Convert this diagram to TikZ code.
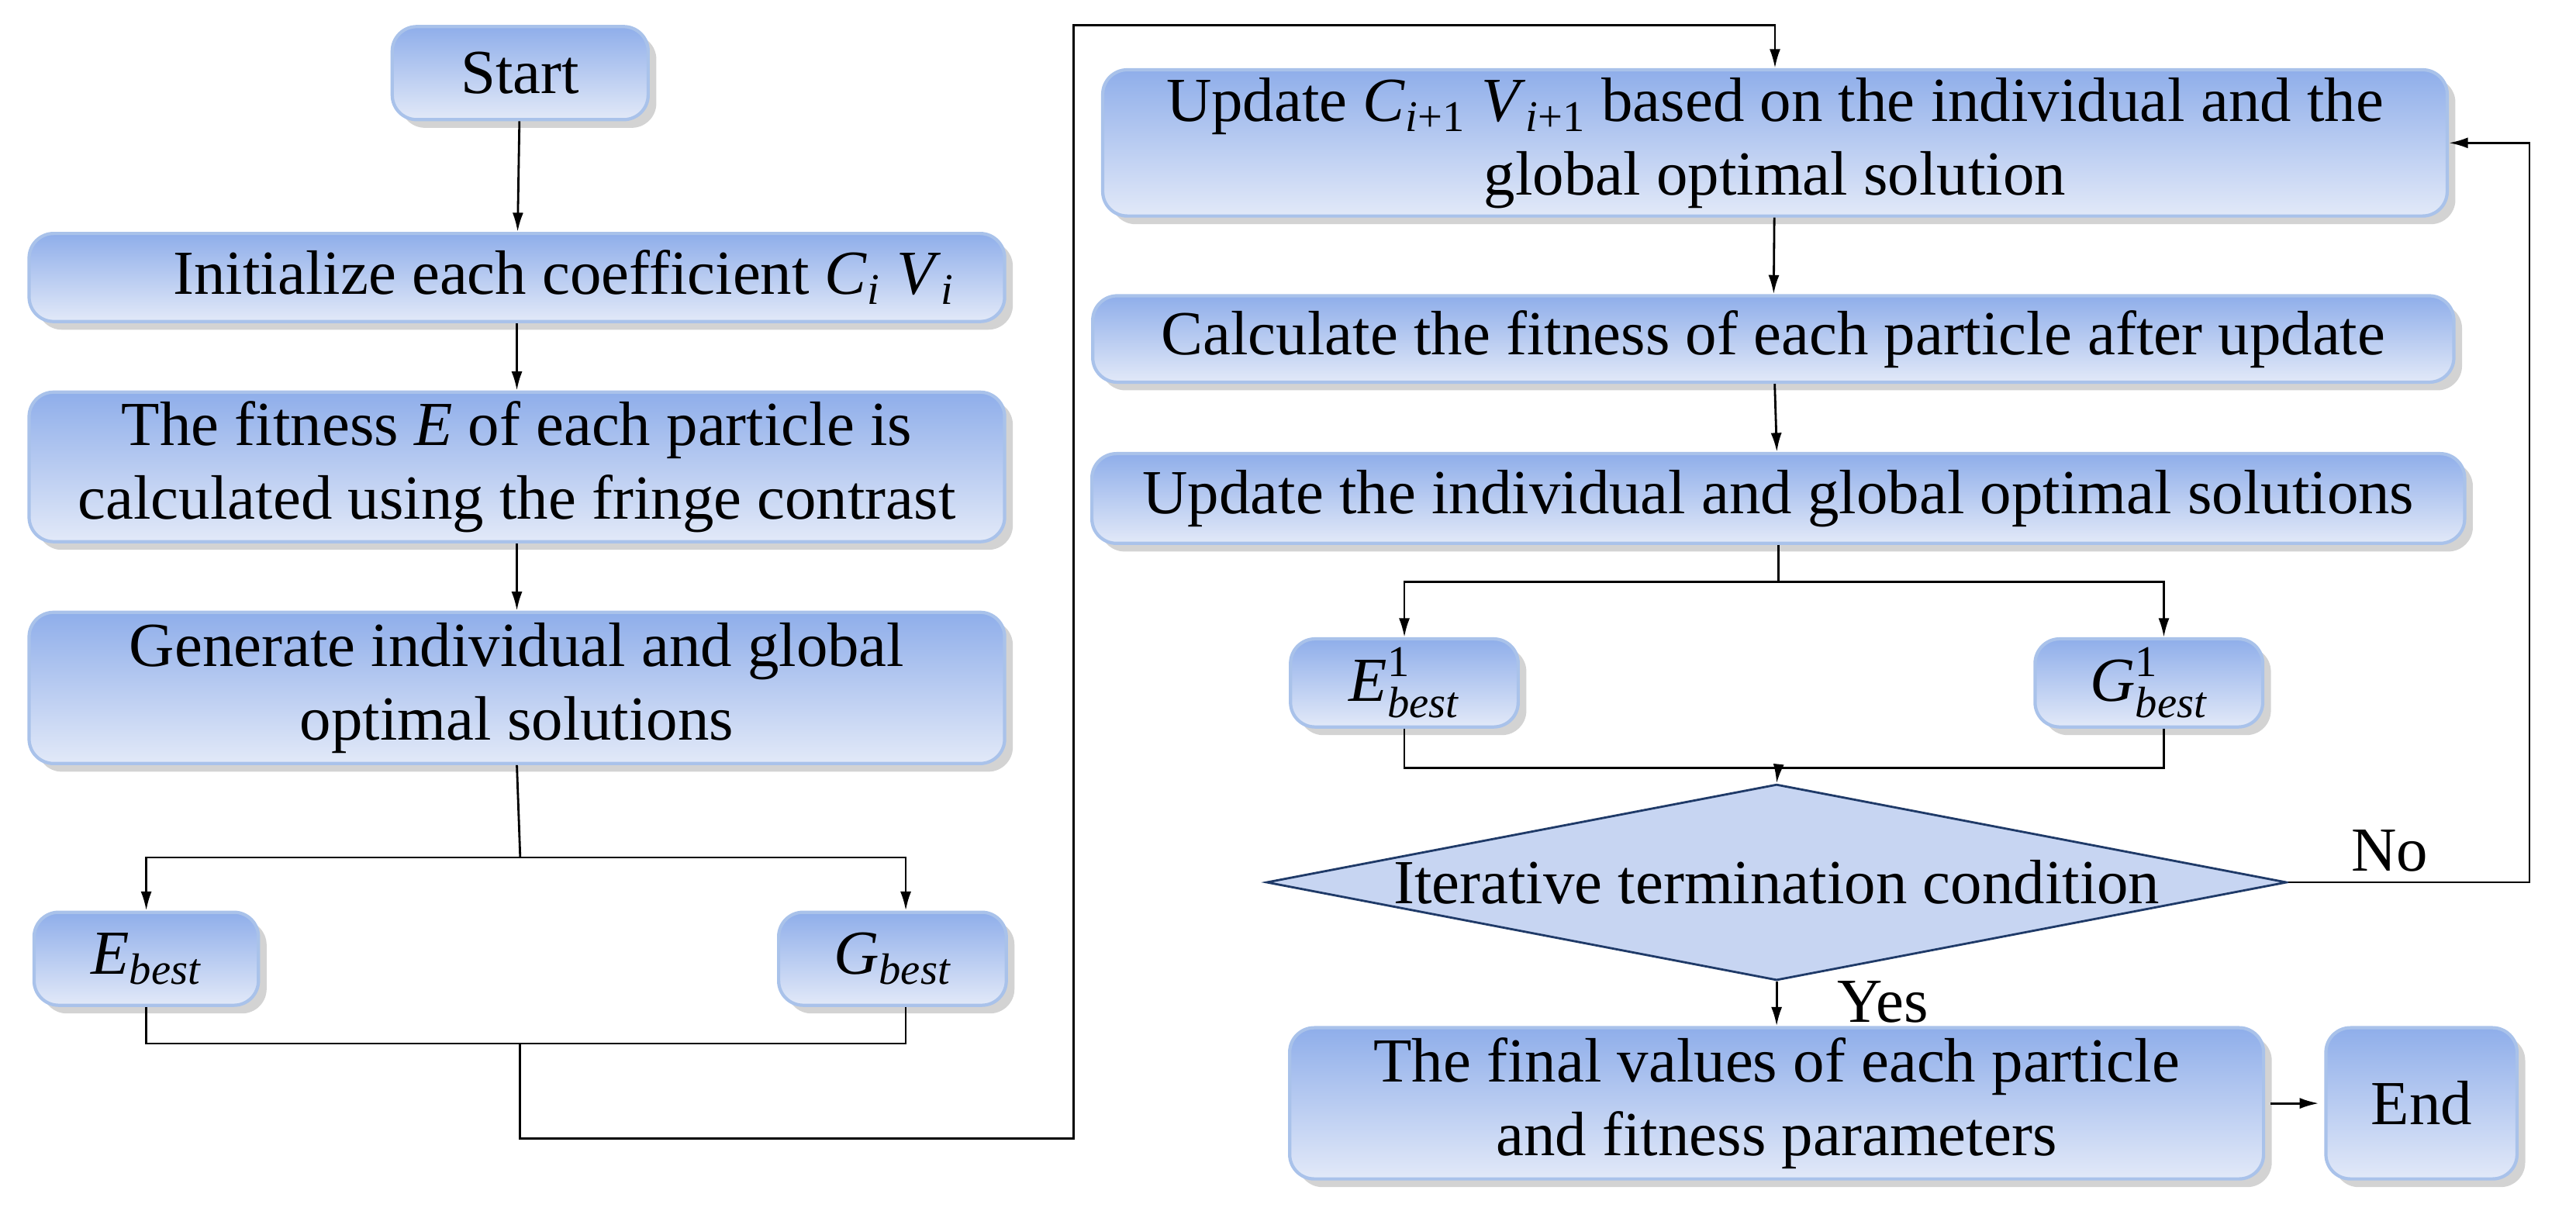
\documentclass[tikz,border=0pt]{standalone}
\usepackage{amsmath}
\usepackage{fontspec}
\setmainfont{Liberation Serif}
\usetikzlibrary{shapes.geometric,shadows,arrows.meta}
\definecolor{btop}{HTML}{8FAEEA}
\definecolor{bbot}{HTML}{E2E9F8}
\definecolor{bline}{HTML}{A9C2EA}
\definecolor{dfill}{HTML}{C7D5F2}
\definecolor{dline}{HTML}{1F3A68}
\newcommand{\sbest}[1]{\textit{#1}$_{\textit{best}}$}
\newcommand{\sbestone}[1]{\textit{#1}$^{\textrm{1}}_{\textit{best}}$}
\begin{document}
\begin{tikzpicture}[x=0.02143cm,y=-0.02143cm,
  font=\fontsize{23}{27}\selectfont,
  box/.style={draw=bline,line width=1.2pt,rounded corners=9pt,top color=btop,bottom color=bbot,
    drop shadow={shadow xshift=3pt,shadow yshift=-3pt,opacity=0.35},align=center,inner sep=0pt},
  ar/.style={-{Latex[length=7pt,width=4pt]},line width=0.8pt},
  ln/.style={line width=0.8pt}]
\useasboundingbox (0,0) rectangle (1550,728.4);
\node[box,minimum width=154*0.02143cm,minimum height=56*0.02143cm] (start) at (313,44) {Start};
\node[box,minimum width=587*0.02143cm,minimum height=53*0.02143cm] (init) at (311,167) {\hspace*{1.5em}Initialize each coefficient \textit{C}$_{\textit{i}}$ \textit{V}$_{\textit{i}}$};
\node[box,minimum width=587*0.02143cm,minimum height=90*0.02143cm] (fit) at (311,281) {The fitness \textit{E} of each particle is\\calculated using the fringe contrast};
\node[box,minimum width=587*0.02143cm,minimum height=91*0.02143cm] (gen) at (311,414) {Generate individual and global\\optimal solutions};
\node[box,minimum width=135*0.02143cm,minimum height=56*0.02143cm] (eb) at (88,577) {\sbest{E}};
\node[box,minimum width=137*0.02143cm,minimum height=56*0.02143cm] (gb) at (537,577) {\sbest{G}};
\node[box,minimum width=809*0.02143cm,minimum height=88*0.02143cm] (upd) at (1068,86) {Update \textit{C}$_{\textit{i}\textrm{+1}}$ \textit{V}$_{\textit{i}\textrm{+1}}$ based on the individual and the\\global optimal solution};
\node[box,minimum width=819*0.02143cm,minimum height=52*0.02143cm] (calc) at (1067,204) {Calculate the fitness of each particle after update};
\node[box,minimum width=826*0.02143cm,minimum height=54*0.02143cm] (updi) at (1070,300) {Update the individual and global optimal solutions};
\node[box,minimum width=137*0.02143cm,minimum height=53*0.02143cm] (e1) at (845,411) {\sbestone{E}};
\node[box,minimum width=137*0.02143cm,minimum height=53*0.02143cm] (g1) at (1293,411) {\sbestone{G}};
\node[diamond,draw=dline,fill=dfill,line width=0.8pt,aspect=5.2,minimum width=614*0.02143cm,minimum height=118*0.02143cm,inner sep=0pt] (dec) at (1069,531) {Iterative termination condition};
\node[box,minimum width=586*0.02143cm,minimum height=91*0.02143cm] (fin) at (1069,664) {The final values of each particle\\and fitness parameters};
\node[box,minimum width=115*0.02143cm,minimum height=91*0.02143cm] (end) at (1457,664) {End};
\draw[ar] (start) -- (init);
\draw[ar] (init) -- (fit);
\draw[ar] (fit) -- (gen);
\coordinate (s1) at (313,516);
\draw[ln] (gen.south) -- (s1);
\draw[ar] (s1) -| (eb.north);
\draw[ar] (s1) -| ([xshift=8*0.02143cm]gb.north);
\coordinate (j1) at (313,628);
\draw[ln] (eb.south) |- (j1);
\draw[ln] ([xshift=8*0.02143cm]gb.south) |- (j1);
\coordinate (c1) at (646,685);
\coordinate (c2) at (646,15);
\draw[ar] (j1) |- (c1) -- (c2) -| (upd.north);
\draw[ar] (upd) -- (calc);
\draw[ar] (calc) -- (updi);
\coordinate (s2) at (1070,350);
\draw[ln] (updi.south) -- (s2);
\draw[ar] (s2) -| (e1.north);
\draw[ar] (s2) -| ([xshift=9*0.02143cm]g1.north);
\coordinate (j2) at (1070,462);
\draw[ln] (e1.south) |- (j2);
\draw[ln] ([xshift=9*0.02143cm]g1.south) |- (j2);
\draw[ar] (j2) -- (dec.north);
\coordinate (n1) at (1522,531);
\coordinate (n2) at (1522,86);
\draw[ar] (dec.east) -- (n1) -- (n2) -- (upd.east);
\node (no) at (1438,512) {No};
\draw[ar] (dec.south) -- (fin.north);
\node (yes) at (1133,603) {Yes};
\draw[ar] ([xshift=2pt]fin.east) -- ([xshift=-2pt]end.west);
\end{tikzpicture}
\end{document}
